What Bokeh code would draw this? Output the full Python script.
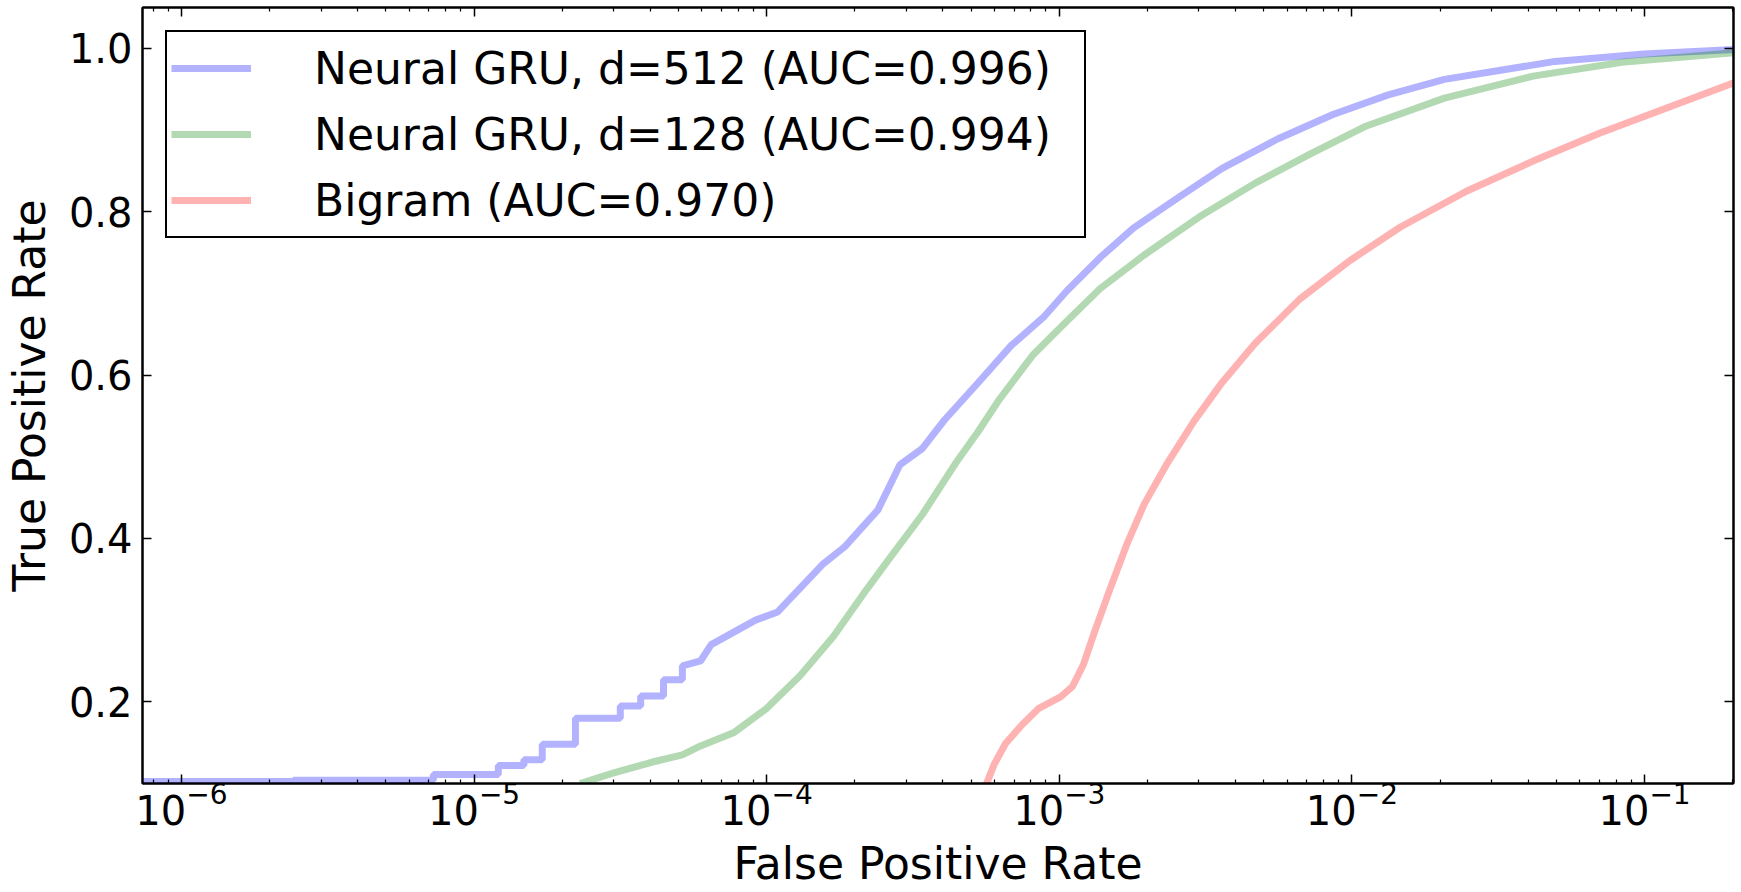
from bokeh.plotting import figure
from bokeh.models import (Range1d, FixedTicker, LogAxis, LinearAxis, Legend, LegendItem,
                          CustomJSTickFormatter, NumeralTickFormatter, LogTickFormatter)
from bokeh.embed import file_html
from bokeh.resources import INLINE

# ---- data (FPR, TPR) ----
gru512_fpr = [7.4e-7, 2.41e-6, 2.41e-6, 7.26e-6, 7.26e-6, 1.21e-5, 1.21e-5, 1.48e-5, 1.48e-5,
              1.71e-5, 1.71e-5, 2.22e-5, 2.22e-5, 3.16e-5, 3.16e-5, 3.71e-5, 3.71e-5,
              4.44e-5, 4.44e-5, 5.15e-5, 5.15e-5, 5.94e-5, 6.46e-5, 7.69e-5, 9.16e-5,
              1.09e-4, 1.55e-4, 1.85e-4, 2.40e-4, 2.85e-4, 3.40e-4, 4.05e-4, 5.26e-4,
              6.84e-4, 8.89e-4, 1.06e-3, 1.38e-3, 1.79e-3, 2.54e-3, 3.60e-3, 5.57e-3,
              8.61e-3, 1.33e-2, 2.07e-2, 4.94e-2, 9.95e-2, 0.21]
gru512_tpr = [0.1025, 0.1025, 0.104, 0.104, 0.111, 0.111, 0.122, 0.122, 0.129,
              0.129, 0.148, 0.148, 0.180, 0.180, 0.195, 0.195, 0.207,
              0.207, 0.227, 0.227, 0.244, 0.250, 0.270, 0.285, 0.300,
              0.310, 0.368, 0.390, 0.435, 0.490, 0.510, 0.545, 0.590,
              0.636, 0.672, 0.703, 0.744, 0.780, 0.817, 0.853, 0.889,
              0.919, 0.943, 0.962, 0.984, 0.993, 0.999]

gru128_fpr = [2.3e-5, 3.0e-5, 4.04e-5, 5.15e-5, 5.94e-5, 7.7e-5, 1.0e-4, 1.30e-4, 1.69e-4,
              2.20e-4, 2.61e-4, 3.40e-4, 4.42e-4, 5.26e-4, 6.26e-4, 8.14e-4, 1.06e-3,
              1.38e-3, 1.95e-3, 3.02e-3, 4.67e-3, 7.24e-3, 1.12e-2, 2.07e-2, 4.16e-2,
              8.36e-2, 0.21]
gru128_tpr = [0.100, 0.113, 0.126, 0.135, 0.146, 0.162, 0.192, 0.232, 0.280,
              0.338, 0.374, 0.429, 0.492, 0.530, 0.571, 0.625, 0.666,
              0.706, 0.747, 0.794, 0.835, 0.871, 0.905, 0.939, 0.966,
              0.983, 0.995]

bigram_fpr = [5.64e-4, 6.00e-4, 6.55e-4, 7.46e-4, 8.51e-4, 1.01e-3, 1.11e-3, 1.21e-3,
              1.32e-3, 1.50e-3, 1.71e-3, 1.95e-3, 2.32e-3, 2.89e-3, 3.60e-3, 4.67e-3,
              6.63e-3, 9.82e-3, 1.46e-2, 2.46e-2, 4.16e-2, 7.01e-2, 0.119, 0.21]
bigram_tpr = [0.100, 0.124, 0.149, 0.172, 0.192, 0.206, 0.219, 0.246,
              0.286, 0.341, 0.395, 0.442, 0.490, 0.544, 0.591, 0.639,
              0.693, 0.740, 0.781, 0.825, 0.862, 0.896, 0.927, 0.960]

labels = ["Neural GRU, d=512 (AUC=0.996)",
          "Neural GRU, d=128 (AUC=0.994)",
          "Bigram (AUC=0.970)"]
colors = ["blue", "green", "red"]

x_major = [1e-6, 1e-5, 1e-4, 1e-3, 1e-2, 1e-1]
x_minor = [m * 10.0 ** e for e in range(-7, 0) for m in range(2, 10)]
y_ticks = [0.2, 0.4, 0.6, 0.8, 1.0]

FONT = "DejaVu Sans"

p = figure(width=1738, height=891, x_axis_type="log",
           x_range=Range1d(7.36e-7, 0.2013), y_range=Range1d(0.1, 1.05),
           output_backend="svg", toolbar_location=None, title=None,
           min_border_left=142, min_border_right=5, min_border_top=7,
           min_border_bottom=106)
p.grid.visible = False
p.outline_line_color = "black"
p.outline_line_width = 2
p.background_fill_color = "white"
p.border_fill_color = "white"

renderers = []
for fx, ty, c in [(gru512_fpr, gru512_tpr, colors[0]),
                  (gru128_fpr, gru128_tpr, colors[1]),
                  (bigram_fpr, bigram_tpr, colors[2])]:
    r = p.line(fx, ty, line_color=c, line_alpha=0.3, line_width=7)
    renderers.append(r)

def style_axis(ax, show_labels):
    ax.axis_line_color = "black"
    ax.axis_line_width = 2
    ax.major_tick_line_color = "black"
    ax.major_tick_line_width = 1.5
    ax.minor_tick_line_color = "black"
    ax.minor_tick_line_width = 1.2
    ax.major_tick_in = 9
    ax.major_tick_out = 0
    ax.minor_tick_in = 4
    ax.minor_tick_out = 0
    if show_labels:
        ax.major_label_text_font = FONT
        ax.major_label_text_font_size = "40px"
        ax.major_label_text_color = "black"
        ax.axis_label_text_font = FONT
        ax.axis_label_text_font_size = "44px"
        ax.axis_label_text_font_style = "normal"
        ax.axis_label_text_color = "black"
    else:
        ax.major_label_text_font_size = "0px"
        ax.major_label_standoff = 0
        ax.formatter = CustomJSTickFormatter(code="return '';")

xb = p.xaxis[0]
xb.ticker = FixedTicker(ticks=x_major, minor_ticks=x_minor)
xb.formatter = LogTickFormatter()
xb.axis_label = "False Positive Rate"
style_axis(xb, True)
xb.major_label_standoff = -2
xb.axis_label_standoff = 10

yl = p.yaxis[0]
yl.ticker = FixedTicker(ticks=y_ticks)
yl.formatter = NumeralTickFormatter(format="0.0")
yl.axis_label = "True Positive Rate"
style_axis(yl, True)
yl.major_label_standoff = 10
yl.axis_label_standoff = 11

xt = LogAxis(ticker=FixedTicker(ticks=x_major, minor_ticks=x_minor))
style_axis(xt, False)
p.add_layout(xt, "above")

yr = LinearAxis(ticker=FixedTicker(ticks=y_ticks))
style_axis(yr, False)
p.add_layout(yr, "right")

legend = Legend(items=[LegendItem(label=labels[i], renderers=[renderers[i]]) for i in range(3)],
                location="top_left", margin=23, padding=4, spacing=2,
                label_height=64, glyph_height=64, glyph_width=80, label_standoff=63,
                label_width=766,
                label_text_font=FONT, label_text_font_size="44px", label_text_color="black",
                border_line_color="black", border_line_width=2, border_line_alpha=1.0,
                background_fill_color="white", background_fill_alpha=1.0)
p.add_layout(legend)

open("out.html", "w").write(file_html(p, INLINE))
